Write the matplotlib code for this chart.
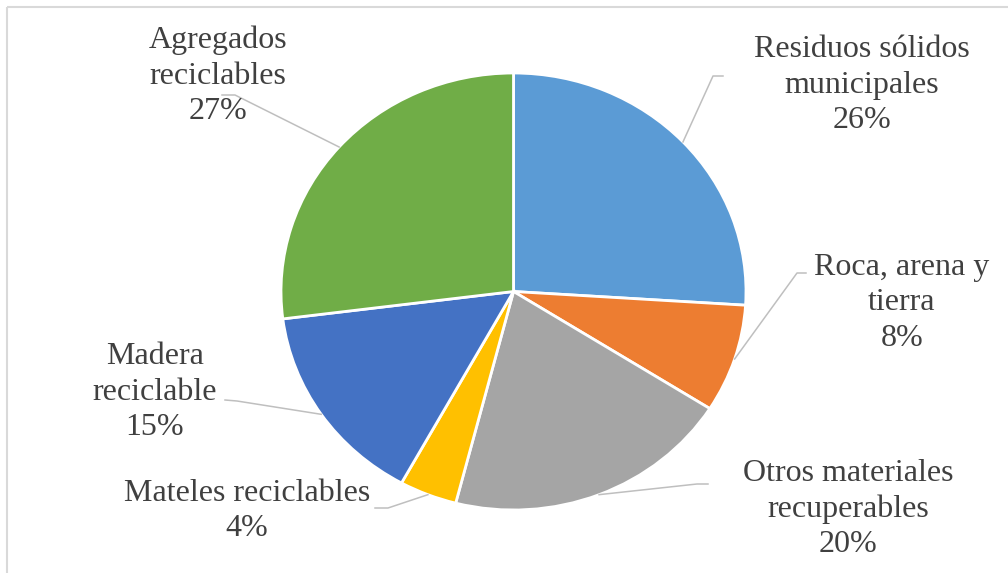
import numpy as np
import matplotlib
matplotlib.use("Agg")
import matplotlib.pyplot as plt
from matplotlib.patches import Rectangle

# Composition of recoverable construction waste (percent)
categories = [
    "Residuos sólidos\nmunicipales",
    "Roca, arena y\ntierra",
    "Otros materiales\nrecuperables",
    "Mateles reciclables",
    "Madera\nreciclable",
    "Agregados\nreciclables",
]
values = [26, 8, 20, 4, 15, 27]
colors = ["#5B9BD5", "#ED7D31", "#A5A5A5", "#FFC000", "#4472C4", "#70AD47"]

W, H = 1008, 573
fig = plt.figure(figsize=(W / 100, H / 100), dpi=100)
plt.rcParams["font.family"] = ["Liberation Serif", "DejaVu Serif"]

# Pie axes (pixel box of the pie: left, top, right, bottom)
pl, pt, pr, pb = 281, 73, 746, 510
ax = fig.add_axes([pl / W, 1 - pb / H, (pr - pl) / W, (pb - pt) / H])
wedges, _ = ax.pie(values, colors=colors, startangle=90, counterclock=False,
                   wedgeprops=dict(edgecolor="white", linewidth=2))
ax.set_aspect("auto")
ax.set_xlim(-1, 1)
ax.set_ylim(-1, 1)
ax.axis("off")

# Overlay in pixel coordinates for labels, leader lines and frame
ov = fig.add_axes([0, 0, 1, 1], facecolor="none")
ov.set_xlim(0, W)
ov.set_ylim(H, 0)
ov.axis("off")
ov.add_patch(Rectangle((7, 7), W + 50, H + 50, fill=False,
                       edgecolor="#D9D9D9", linewidth=1.5))

# label block centres and leader elbows (pixels)
label_pos = [(862, 85), (902, 303), (848, 509), (247, 511), (155, 392), (218, 76)]
elbows = [((713, 76), (723, 76)),
          ((797, 273), (806, 273)),
          ((697, 484), (708, 484)),
          ((388, 508), (375, 508)),
          ((237, 401), (225, 400)),
          ((235, 95), (222, 95))]

total = sum(values)
to_pix = ax.transData + ov.transData.inverted()
cum = 0.0
for name, v, (lx, ly), (e1, e2) in zip(categories, values, label_pos, elbows):
    mid = np.deg2rad(90 - 360 * (cum + v / 2) / total)
    cum += v
    sx, sy = to_pix.transform((np.cos(mid), np.sin(mid)))
    ov.plot([sx, e1[0], e2[0]], [sy, e1[1], e2[1]], color="#BFBFBF", lw=1.1)
    ov.text(lx, ly, f"{name}\n{v / total * 100:.0f}%", ha="center", va="center",
            fontsize=23, color="#404040", linespacing=1.3)

fig.savefig("out.png", dpi=100)
